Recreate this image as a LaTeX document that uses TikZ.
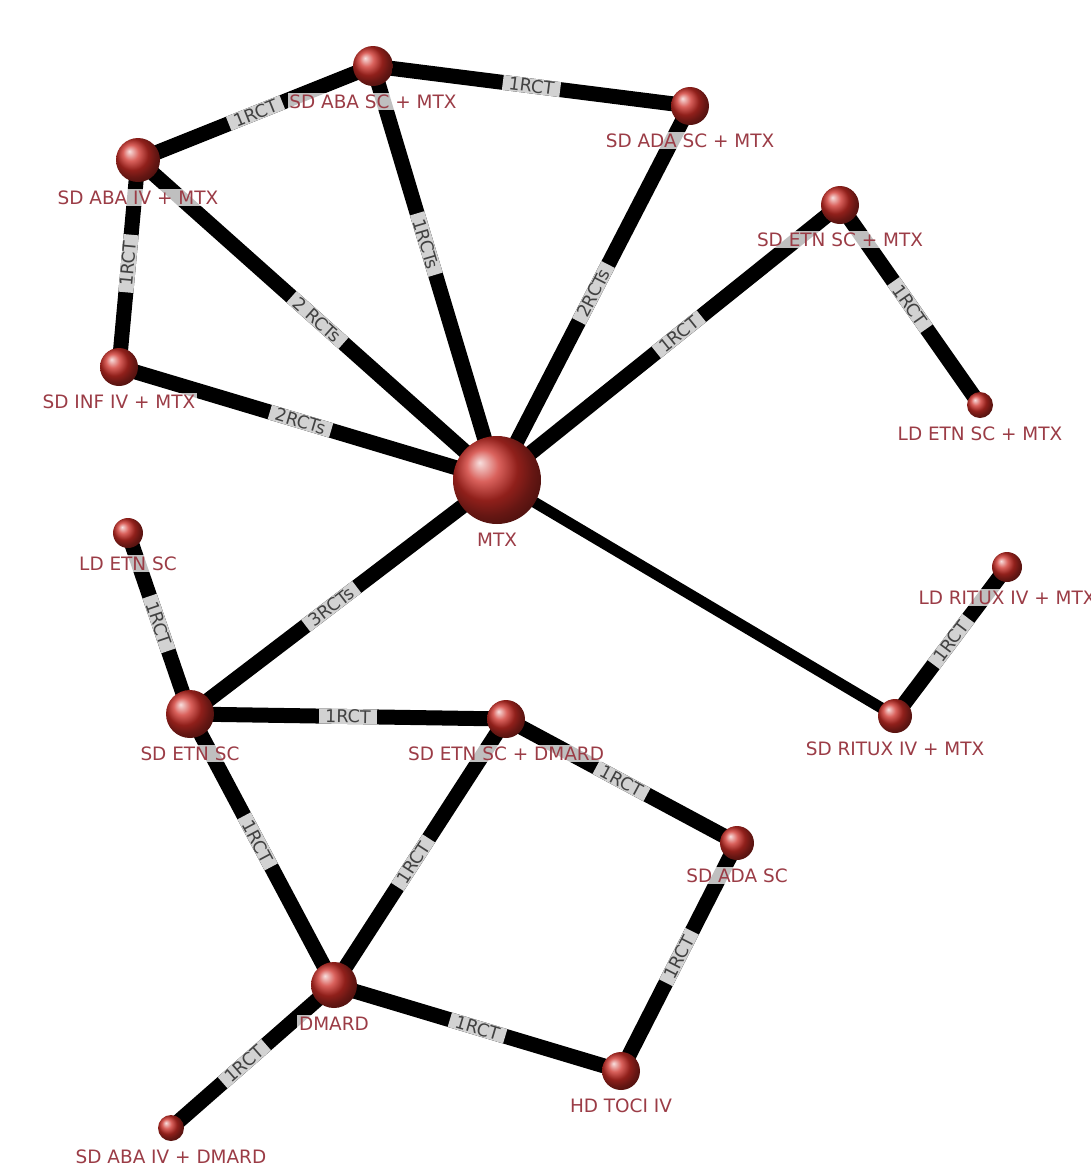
\documentclass[tikz,border=0pt]{standalone}
\usepackage{fontspec}
\setmainfont{DejaVu Sans}
\usetikzlibrary{positioning}
\pgfdeclarelayer{bg}
\pgfsetlayers{bg,main}
\definecolor{armred}{RGB}{205,45,38}
\definecolor{armtext}{RGB}{155,60,70}
\definecolor{rctfill}{RGB}{210,210,210}
\definecolor{rcttext}{RGB}{65,65,65}

\begin{document}
\begin{tikzpicture}[
  x=0.02cm,y=-0.02cm,
  arm/.style={circle,ball color=armred,inner sep=0pt,label distance=0pt},
  every label/.style={font=\fontsize{10.5}{12}\selectfont,text=armtext,yshift=-3.5pt,
                      fill=white,fill opacity=.75,text opacity=1,inner sep=1pt},
  link/.style={line width=0.30cm,draw=black},
  rct/.style={sloped,fill=rctfill,text=rcttext,font=\fontsize{10}{12}\selectfont,
              inner xsep=3.5pt,inner ysep=0.3pt,minimum height=0.30cm}
]
  \useasboundingbox (0,0) rectangle (1091,1171);

  % arms of the network
  \node[arm,minimum size=1.76cm,label=below:MTX] (mtx) at (497,480) {};
  \node[arm,minimum size=0.80cm,label=below:SD ABA SC + MTX] (abasc) at (373,66) {};
  \node[arm,minimum size=0.76cm,label=below:SD ADA SC + MTX] (adasc) at (690,106) {};
  \node[arm,minimum size=0.88cm,label=below:SD ABA IV + MTX] (abaiv) at (138,160) {};
  \node[arm,minimum size=0.76cm,label=below:SD ETN SC + MTX] (etnmtx) at (840,205) {};
  \node[arm,minimum size=0.76cm,label=below:SD INF IV + MTX] (infiv) at (119,367) {};
  \node[arm,minimum size=0.52cm,label=below:LD ETN SC + MTX] (ldetnmtx) at (980,405) {};
  \node[arm,minimum size=0.60cm,label=below:LD ETN SC] (ldetn) at (128,533) {};
  \node[arm,minimum size=0.60cm,label=below:LD RITUX IV + MTX] (ldritux) at (1007,567) {};
  \node[arm,minimum size=0.96cm,label=below:SD ETN SC] (etnsc) at (190,714) {};
  \node[arm,minimum size=0.76cm,label=below:SD ETN SC + DMARD] (etndmard) at (506,719) {};
  \node[arm,minimum size=0.68cm,label=below:SD RITUX IV + MTX] (ritux) at (895,716) {};
  \node[arm,minimum size=0.68cm,label=below:SD ADA SC] (adasc2) at (737,843) {};
  \node[arm,minimum size=0.92cm,label=below:DMARD] (dmard) at (334,985) {};
  \node[arm,minimum size=0.76cm,label=below:HD TOCI IV] (toci) at (621,1071) {};
  \node[arm,minimum size=0.52cm,label=below:SD ABA IV + DMARD] (abadmard) at (171,1128) {};

  % direct comparisons
  \begin{pgfonlayer}{bg}
    \draw[link] (abaiv.center) -- node[rct] {1RCT} (abasc.center);
    \draw[link] (abasc.center) -- node[rct] {1RCT} (adasc.center);
    \draw[link] (abaiv.center) -- node[rct] {1RCT} (infiv.center);
    \draw[link] (abaiv.center) -- node[rct] {2 RCTs} (mtx.center);
    \draw[link] (abasc.center) -- node[rct,pos=.43] {1RCTs} (mtx.center);
    \draw[link] (adasc.center) -- node[rct] {2RCTs} (mtx.center);
    \draw[link] (etnmtx.center) -- node[rct,pos=.47] {1RCT} (mtx.center);
    \draw[link] (etnmtx.center) -- node[rct] {1RCT} (ldetnmtx.center);
    \draw[link] (infiv.center) -- node[rct,pos=.48] {2RCTs} (mtx.center);
    \draw[link] (mtx.center) -- node[rct,pos=.54] {3RCTs} (etnsc.center);
    \draw[link,line width=0.22cm] (mtx.center) -- (ritux.center);
    \draw[link] (ldetn.center) -- node[rct] {1RCT} (etnsc.center);
    \draw[link] (ritux.center) -- node[rct] {1RCT} (ldritux.center);
    \draw[link] (etnsc.center) -- node[rct] {1RCT} (etndmard.center);
    \draw[link] (etndmard.center) -- node[rct] {1RCT} (adasc2.center);
    \draw[link] (etnsc.center) -- node[rct,pos=.47] {1RCT} (dmard.center);
    \draw[link] (dmard.center) -- node[rct,pos=.46] {1RCT} (etndmard.center);
    \draw[link] (adasc2.center) -- node[rct] {1RCT} (toci.center);
    \draw[link] (dmard.center) -- node[rct] {1RCT} (toci.center);
    \draw[link] (dmard.center) -- node[rct,pos=.55] {1RCT} (abadmard.center);
  \end{pgfonlayer}
\end{tikzpicture}
\end{document}
